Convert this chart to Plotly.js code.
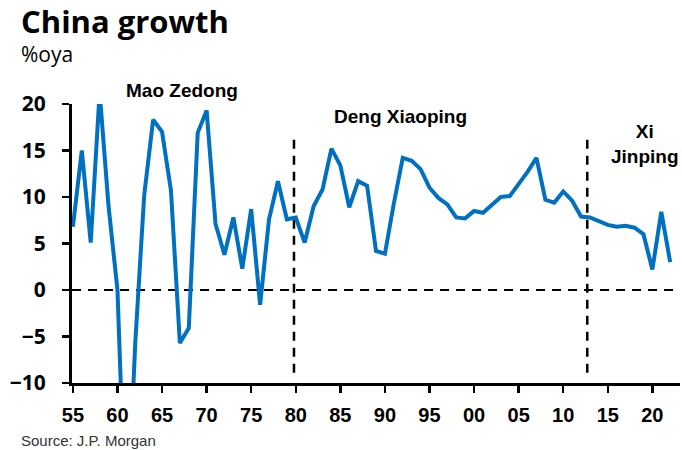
<!DOCTYPE html>
<html>
<head>
<meta charset="utf-8">
<script src="https://cdn.plot.ly/plotly-3.0.1.min.js"></script>
<style>
  html, body { margin: 0; padding: 0; background: #ffffff; }
  #chart { width: 682px; height: 450px; }
</style>
</head>
<body>
<div id="chart"></div>
<script>
// Real GDP growth, % over year ago
const years = [
  1955, 1956, 1957, 1958, 1959, 1960, 1961, 1962, 1963, 1964,
  1965, 1966, 1967, 1968, 1969, 1970, 1971, 1972, 1973, 1974,
  1975, 1976, 1977, 1978, 1979, 1980, 1981, 1982, 1983, 1984,
  1985, 1986, 1987, 1988, 1989, 1990, 1991, 1992, 1993, 1994,
  1995, 1996, 1997, 1998, 1999, 2000, 2001, 2002, 2003, 2004,
  2005, 2006, 2007, 2008, 2009, 2010, 2011, 2012, 2013, 2014,
  2015, 2016, 2017, 2018, 2019, 2020, 2021, 2022
];
const growth = [
  6.8, 15.0, 5.1, 21.3, 9.0, 0.0, -27.3, -5.6, 10.2, 18.3,
  17.0, 10.7, -5.7, -4.1, 16.9, 19.3, 7.1, 3.8, 7.8, 2.3,
  8.7, -1.6, 7.6, 11.7, 7.6, 7.8, 5.1, 9.0, 10.8, 15.2,
  13.4, 8.9, 11.7, 11.2, 4.2, 3.9, 9.3, 14.2, 13.9, 13.0,
  11.0, 9.9, 9.2, 7.8, 7.7, 8.5, 8.3, 9.1, 10.0, 10.1,
  11.4, 12.7, 14.2, 9.7, 9.4, 10.6, 9.6, 7.9, 7.8, 7.4,
  7.0, 6.8, 6.9, 6.7, 6.0, 2.2, 8.4, 3.0
];

// Axis ticks
const xTickVals = [1955, 1960, 1965, 1970, 1975, 1980, 1985, 1990, 1995, 2000, 2005, 2010, 2015, 2020];
const xTickText = ["55", "60", "65", "70", "75", "80", "85", "90", "95", "00", "05", "10", "15", "20"];
const yTickVals = [-10, -5, 0, 5, 10, 15, 20];

// Leadership eras: divider years and labels
const eraStarts = [1979.8, 2012.7];
const eraLabels = ["Mao Zedong", "Deng Xiaoping", "Xi<br>Jinping"];
const eraLabelX = [0.181, 0.540, 0.942];   // paper fractions
const eraLabelY = [1.047, 0.956, 0.855];

const boldFont = { family: "Liberation Sans, Arial, sans-serif", size: 19, color: "#000000", weight: "bold" };

const shapes = [
  {
    type: "line", xref: "paper", yref: "y", x0: 0, x1: 1, y0: 0, y1: 0,
    line: { color: "#000000", width: 2, dash: "9px,7px" }, layer: "below"
  }
].concat(eraStarts.map(x => ({
  type: "line", xref: "x", yref: "y", x0: x, x1: x, y0: -8.9, y1: 16.7,
  line: { color: "#000000", width: 2.5, dash: "9px,7px" }, layer: "below"
})));

const annotations = eraLabels.map((t, i) => ({
  text: t, x: eraLabelX[i], y: eraLabelY[i], xref: "paper", yref: "paper",
  showarrow: false, font: boldFont, align: "center",
  xanchor: "center", yanchor: "middle"
})).concat([
  {
    text: "China growth", xref: "paper", yref: "paper",
    x: -0.087, y: 1.38, xanchor: "left", yanchor: "top", showarrow: false,
    font: { family: "Open Sans, Noto Sans, sans-serif", size: 31, color: "#000000", weight: "bold" }
  },
  {
    text: "%oya", xref: "paper", yref: "paper",
    x: -0.087, y: 1.235, xanchor: "left", yanchor: "top", showarrow: false,
    font: { family: "Open Sans, Noto Sans, sans-serif", size: 21, color: "#000000" }
  },
  {
    text: "Source: J.P. Morgan", xref: "paper", yref: "paper",
    x: -0.087, y: -0.17, xanchor: "left", yanchor: "top", showarrow: false,
    font: { family: "Liberation Sans, Arial, sans-serif", size: 15, color: "#333333" }
  }
]);

const trace = {
  x: years, y: growth, type: "scatter", mode: "lines",
  line: { color: "#0070C0", width: 4 },
  hoverinfo: "x+y"
};

const layout = {
  width: 682, height: 450,
  margin: { l: 72, r: 2, t: 104, b: 67 },
  paper_bgcolor: "#ffffff", plot_bgcolor: "#ffffff",
  showlegend: false,
  xaxis: {
    range: [1954.9, 2023.1],
    tickvals: xTickVals, ticktext: xTickText,
    showgrid: false, zeroline: false,
    showline: true, linecolor: "#000000", linewidth: 3,
    ticks: "outside", ticklen: 7, tickwidth: 2.5, tickcolor: "#000000",
    tickfont: { family: "Liberation Sans, Arial, sans-serif", size: 20, color: "#000000", weight: "bold" },
    ticklabelstandoff: 5
  },
  yaxis: {
    range: [-10, 20],
    tickvals: yTickVals,
    showgrid: false, zeroline: false,
    showline: true, linecolor: "#000000", linewidth: 3,
    ticks: "outside", ticklen: 7, tickwidth: 2.5, tickcolor: "#000000",
    tickfont: { family: "Open Sans, Noto Sans, sans-serif", size: 21, color: "#000000", weight: "bold" },
    ticklabelstandoff: 12
  },
  shapes: shapes,
  annotations: annotations
};

Plotly.newPlot("chart", [trace], layout, { displayModeBar: false, staticPlot: true });
</script>
</body>
</html>
